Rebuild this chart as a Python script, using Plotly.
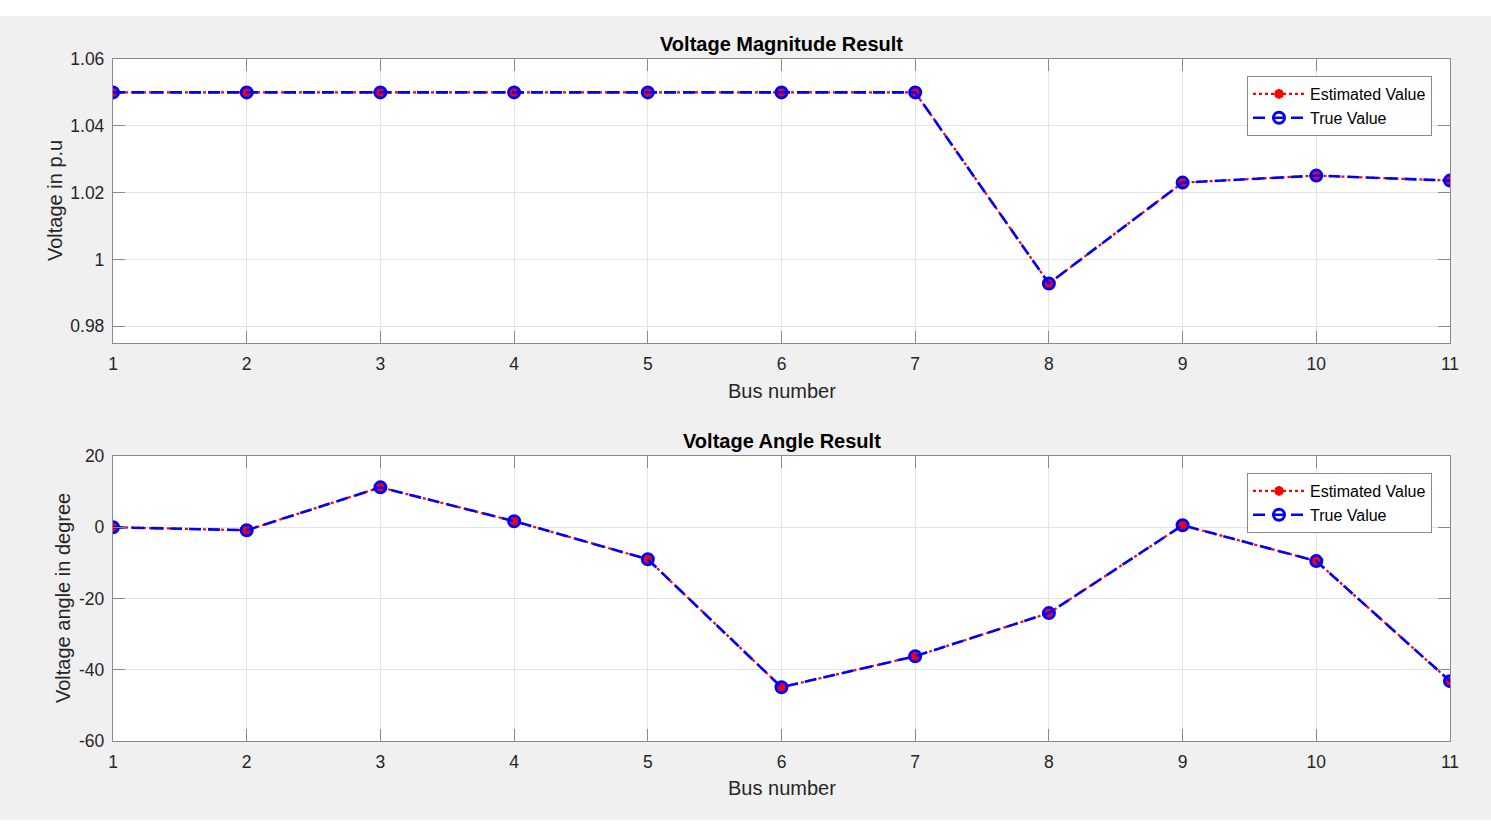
import plotly.graph_objects as go

bus = [1, 2, 3, 4, 5, 6, 7, 8, 9, 10, 11]
vmag_est = [1.05, 1.05, 1.05, 1.05, 1.05, 1.05, 1.05, 0.9928, 1.0230, 1.0251, 1.0236]
vmag_true = [1.05, 1.05, 1.05, 1.05, 1.05, 1.05, 1.05, 0.9928, 1.0230, 1.0251, 1.0236]
vang_est = [0.0, -0.84, 11.2, 1.7, -9.0, -44.9, -36.2, -24.1, 0.56, -9.5, -43.2]
vang_true = [0.0, -0.84, 11.2, 1.7, -9.0, -44.9, -36.2, -24.1, 0.56, -9.5, -43.2]

mag_ticks = [0.98, 1.0, 1.02, 1.04, 1.06]
mag_ticktext = ["0.98", "1", "1.02", "1.04", "1.06"]
ang_ticks = [-60, -40, -20, 0, 20]
ang_ticktext = ["-60", "-40", "-20", "0", "20"]

W, H = 1491, 832
L, R, T, B = 113, 41, 59, 91
PH = H - T - B
PW = W - L - R


def py(px):
    return (H - B - px) / PH


def pxx(px):
    return (px - L) / PW


FONT = "Liberation Sans, Arial, sans-serif"
TXT = "#262626"
AX = "#8a8a8a"
GRID = "#e3e3e3"

fig = go.Figure()


def add_pair(x, est, tru, xa, ya, leg):
    fig.add_trace(go.Scatter(
        x=x, y=est, name="Estimated Value", mode="lines+markers",
        line=dict(color="red", width=2.2, dash="3px,3px"),
        marker=dict(symbol="asterisk-open", size=8, color="red",
                    line=dict(color="red", width=3)),
        xaxis=xa, yaxis=ya, legend=leg))
    fig.add_trace(go.Scatter(
        x=x, y=tru, name="True Value", mode="lines+markers",
        line=dict(color="blue", width=2.6, dash="12px,7px"),
        marker=dict(symbol="circle-open", size=11, color="blue",
                    line=dict(color="blue", width=3)),
        xaxis=xa, yaxis=ya, legend=leg))


add_pair(bus, vmag_est, vmag_true, "x", "y", "legend")
add_pair(bus, vang_est, vang_true, "x2", "y2", "legend2")

common_x = dict(range=[1, 11], tickvals=bus, ticks="inside", ticklen=12,
                tickcolor=AX, showline=True, linecolor=AX, linewidth=1.3,
                mirror="ticks", showgrid=True, gridcolor=GRID, gridwidth=1,
                zeroline=False, tickfont=dict(family=FONT, size=17.5, color=TXT),
                ticklabelstandoff=5)
common_y = dict(ticks="inside", ticklen=12, tickcolor=AX, showline=True,
                linecolor=AX, linewidth=1.3, mirror="ticks", showgrid=True,
                gridcolor=GRID, gridwidth=1, zeroline=False,
                tickfont=dict(family=FONT, size=17.5, color=TXT),
                ticklabelstandoff=4)

top_dom = [py(343), 1.0]
bot_dom = [0.0, py(456)]

fig.update_layout(
    width=W, height=H,
    margin=dict(l=L, r=R, t=T, b=B),
    paper_bgcolor="#f0f0f0",
    plot_bgcolor="white",
    font=dict(family=FONT, color=TXT),
    xaxis=dict(common_x, domain=[0, 1], anchor="y"),
    yaxis=dict(common_y, domain=top_dom, range=[0.975, 1.06],
               tickvals=mag_ticks, ticktext=mag_ticktext, anchor="x"),
    xaxis2=dict(common_x, domain=[0, 1], anchor="y2"),
    yaxis2=dict(common_y, domain=bot_dom, range=[-60, 20],
                tickvals=ang_ticks, ticktext=ang_ticktext, anchor="x2"),
    legend=dict(x=pxx(1432), y=py(76), xanchor="right", yanchor="top",
                bgcolor="white", bordercolor=AX, borderwidth=1,
                font=dict(family=FONT, size=16, color="black"),
                itemwidth=52, tracegroupgap=0),
    legend2=dict(x=pxx(1432), y=py(473), xanchor="right", yanchor="top",
                 bgcolor="white", bordercolor=AX, borderwidth=1,
                 font=dict(family=FONT, size=16, color="black"),
                 itemwidth=52, tracegroupgap=0),
    showlegend=True,
)

ann = [
    dict(text="<b>Voltage Magnitude Result</b>", x=0.5, y=py(44), size=20, angle=0, color="black"),
    dict(text="<b>Voltage Angle Result</b>", x=0.5, y=py(441), size=20, angle=0, color="black"),
    dict(text="Bus number", x=0.5, y=py(391), size=20, angle=0, color=TXT),
    dict(text="Bus number", x=0.5, y=py(788), size=20, angle=0, color=TXT),
    dict(text="Voltage in p.u", x=pxx(55), y=py(201), size=20, angle=-90, color=TXT),
    dict(text="Voltage angle in degree", x=pxx(63), y=py(598), size=20, angle=-90, color=TXT),
]
for a in ann:
    fig.add_annotation(text=a["text"], x=a["x"], y=a["y"], xref="paper", yref="paper",
                       xanchor="center", yanchor="middle", showarrow=False,
                       textangle=a["angle"],
                       font=dict(family=FONT, size=a["size"], color=a["color"]))

# white strips above and below the grey figure area
fig.add_shape(type="rect", xref="paper", yref="paper", x0=pxx(0), x1=pxx(W),
              y0=py(16), y1=py(0), fillcolor="white", line=dict(width=0), layer="above")
fig.add_shape(type="rect", xref="paper", yref="paper", x0=pxx(0), x1=pxx(W),
              y0=py(H), y1=py(820), fillcolor="white", line=dict(width=0), layer="above")

fig.write_html(
    "out.html",
    config={"displayModeBar": False},
    post_script="document.body.style.margin='0';document.body.style.overflow='hidden';",
)
